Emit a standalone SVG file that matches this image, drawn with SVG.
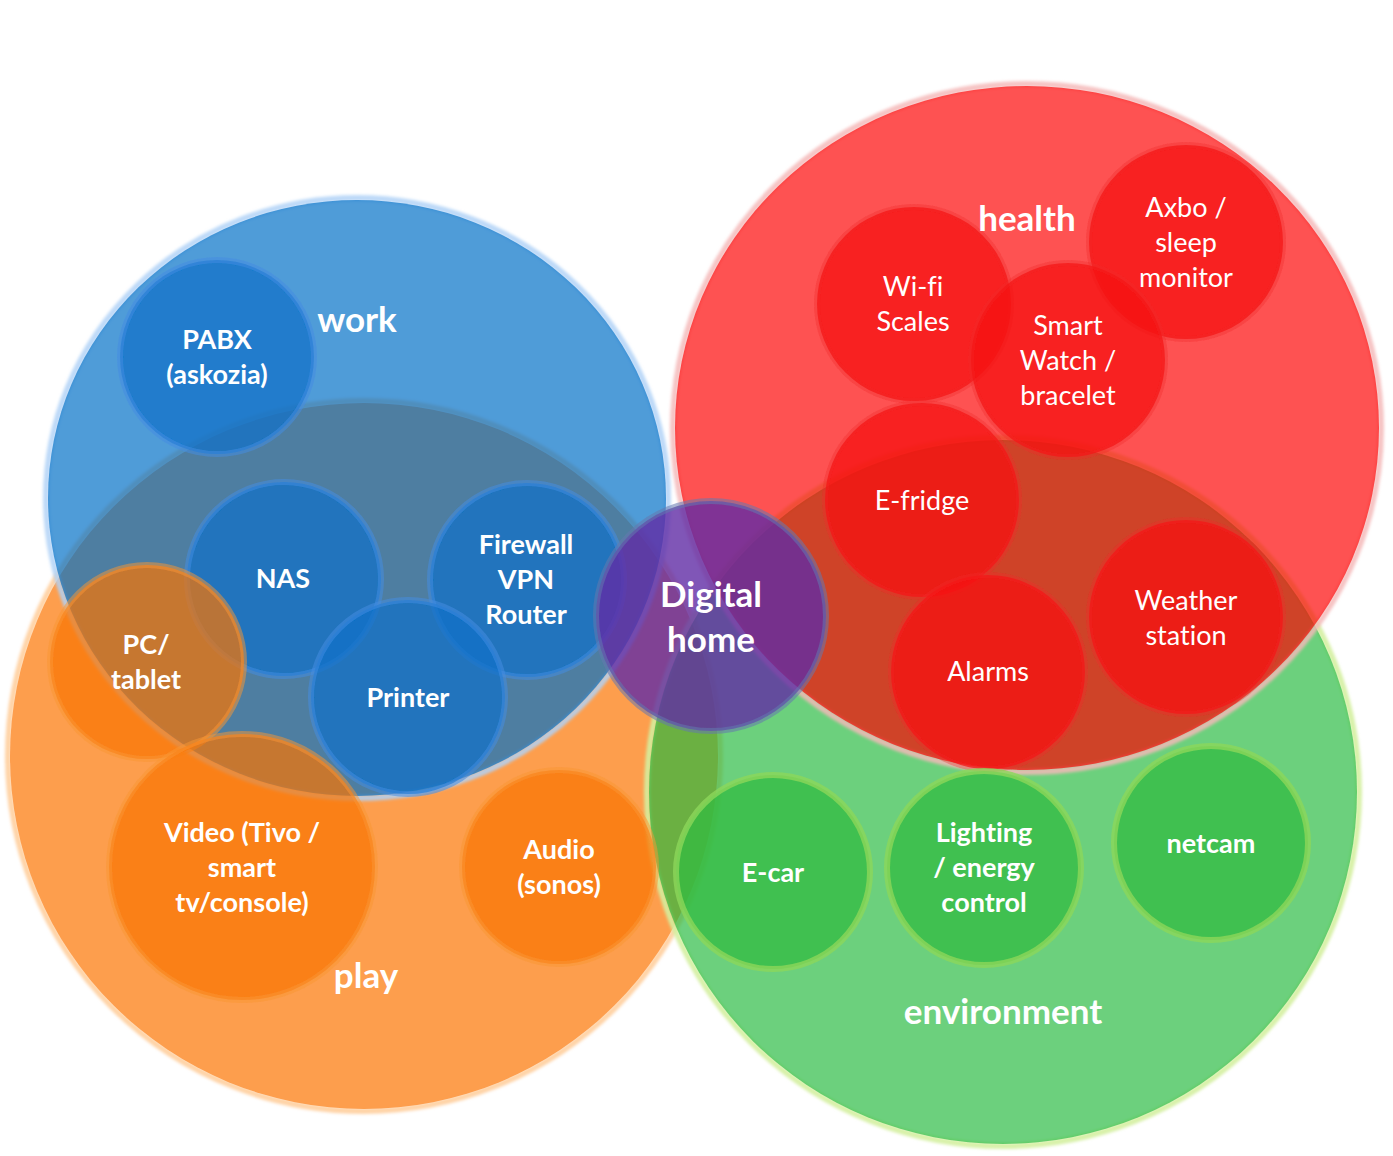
<svg xmlns="http://www.w3.org/2000/svg" width="1393" height="1156" viewBox="0 0 1393 1156">
<defs>
<filter id="soft" x="-5%" y="-5%" width="110%" height="110%"><feGaussianBlur stdDeviation="0.7"/></filter>
<filter id="glow" x="-10%" y="-10%" width="120%" height="120%"><feGaussianBlur stdDeviation="1.6"/></filter>
</defs>
<style>
text { font-family: Lato, "Open Sans", "Liberation Sans", sans-serif; fill: #ffffff; text-anchor: middle; font-variant-ligatures: none; }
.t { font-size: 35px; font-weight: 700; }
.l { font-size: 27px; font-weight: 700; }
.r { font-size: 27px; font-weight: 400; }
.soft { filter: url(#soft); }
.halo { fill: none; stroke-width: 6; filter: url(#glow); }
.sb { fill: rgb(10,112,200); fill-opacity: 0.72; stroke: rgb(70,140,225); stroke-opacity: 0.55; stroke-width: 6; filter: url(#soft); }
.so { fill: rgb(250,115,3); fill-opacity: 0.7; stroke: rgb(250,150,50); stroke-opacity: 0.5; stroke-width: 6; filter: url(#soft); }
.sr { fill: rgb(246,15,15); fill-opacity: 0.75; stroke: rgb(240,40,40); stroke-opacity: 0.35; stroke-width: 6; filter: url(#soft); }
.sg { fill: rgb(49,187,65); fill-opacity: 0.75; stroke: rgb(140,215,90); stroke-opacity: 0.8; stroke-width: 6; filter: url(#soft); }
.sp { fill: rgb(96,45,165); fill-opacity: 0.8; stroke: rgb(100,120,175); stroke-opacity: 0.55; stroke-width: 6; filter: url(#soft); }
</style>
<rect width="1393" height="1156" fill="#ffffff"/>

<g id="play">
<ellipse class="halo" cx="364" cy="756" rx="356" ry="355" stroke="#ffc890" stroke-opacity="0.8"/>
<ellipse class="soft" cx="364" cy="756" rx="354" ry="353" fill="#fd9e4e"/>
</g>
<g id="environment">
<ellipse class="halo" cx="1003" cy="792" rx="356" ry="354" stroke="#d4f0a0" stroke-opacity="0.9"/>
<ellipse class="soft" cx="1003" cy="792" rx="354" ry="352" fill="rgb(37,185,61)" fill-opacity="0.67"/>
</g>
<g id="work">
<ellipse class="halo" cx="357" cy="498" rx="311" ry="300" stroke="#b0d2f7" stroke-opacity="0.85"/>
<ellipse class="soft" cx="357" cy="498" rx="309" ry="298" fill="rgb(8,112,199)" fill-opacity="0.69"/>
</g>
<g id="health">
<ellipse class="halo" cx="1027" cy="428" rx="354" ry="344" stroke="#f5b8b8" stroke-opacity="0.85"/>
<ellipse class="soft" cx="1027" cy="428" rx="352" ry="342" fill="rgb(253,4,4)" fill-opacity="0.68"/>
</g>

<g id="pabx"><circle class="sb" cx="217" cy="357" r="97"/><text class="l" x="217" y="349">PABX</text><text class="l" x="217" y="384">(askozia)</text></g>
<g id="nas"><circle class="sb" cx="284" cy="579" r="97"/><text class="l" x="283" y="588">NAS</text></g>
<g id="firewall"><circle class="sb" cx="527" cy="580" r="97"/><text class="l" x="526" y="554">Firewall</text><text class="l" x="526" y="589">VPN</text><text class="l" x="526" y="624">Router</text></g>
<g id="printer"><circle class="sb" cx="408" cy="697" r="97"/><text class="l" x="408" y="707">Printer</text></g>

<g id="pc-tablet"><circle class="so" cx="147" cy="662" r="97"/><text class="l" x="146" y="654">PC/</text><text class="l" x="146" y="689">tablet</text></g>
<g id="video"><circle class="so" cx="242" cy="867" r="133"/><text class="l" x="242" y="842">Video (Tivo /</text><text class="l" x="242" y="877">smart</text><text class="l" x="242" y="912">tv/console)</text></g>
<g id="audio"><circle class="so" cx="559" cy="867" r="97"/><text class="l" x="559" y="859">Audio</text><text class="l" x="559" y="894">(sonos)</text></g>

<g id="wifi-scales"><circle class="sr" cx="914" cy="304" r="97"/><text class="r" x="913" y="296">Wi-fi</text><text class="r" x="913" y="331">Scales</text></g>
<g id="axbo"><circle class="sr" cx="1186" cy="242" r="97"/><text class="r" x="1186" y="217">Axbo /</text><text class="r" x="1186" y="252">sleep</text><text class="r" x="1186" y="287">monitor</text></g>
<g id="smart-watch"><circle class="sr" cx="1068" cy="360" r="97"/><text class="r" x="1068" y="335">Smart</text><text class="r" x="1068" y="370">Watch /</text><text class="r" x="1068" y="405">bracelet</text></g>
<g id="e-fridge"><circle class="sr" cx="922" cy="500" r="97"/><text class="r" x="922" y="510">E-fridge</text></g>
<g id="weather-station"><circle class="sr" cx="1186" cy="617" r="97"/><text class="r" x="1186" y="610">Weather</text><text class="r" x="1186" y="645">station</text></g>
<g id="alarms"><circle class="sr" cx="988" cy="672" r="97"/><text class="r" x="988" y="681">Alarms</text></g>

<g id="e-car"><circle class="sg" cx="773" cy="872" r="97"/><text class="l" x="773" y="882">E-car</text></g>
<g id="lighting"><circle class="sg" cx="984" cy="868" r="97"/><text class="l" x="984" y="842">Lighting</text><text class="l" x="984" y="877">/ energy</text><text class="l" x="984" y="912">control</text></g>
<g id="netcam"><circle class="sg" cx="1211" cy="843" r="97"/><text class="l" x="1211" y="853">netcam</text></g>

<g id="digital-home"><circle class="sp" cx="711" cy="616" r="115"/><text class="t" x="711" y="607">Digital</text><text class="t" x="711" y="652">home</text></g>

<g id="group-labels">
<text class="t" x="357" y="332">work</text>
<text class="t" x="1027" y="231">health</text>
<text class="t" x="366" y="988">play</text>
<text class="t" x="1003" y="1024">environment</text>
</g>
<g id="connectors"/>
</svg>
